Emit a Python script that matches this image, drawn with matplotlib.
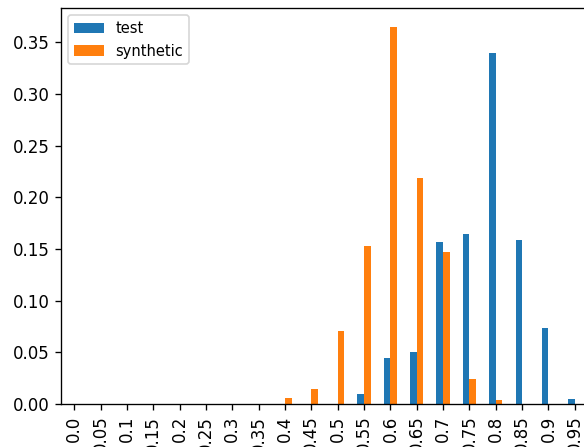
import pandas as pd
import matplotlib
matplotlib.use('Agg')
import matplotlib.pyplot as plt

bins = ['0.0', '0.05', '0.1', '0.15', '0.2', '0.25', '0.3', '0.35', '0.4', '0.45',
        '0.5', '0.55', '0.6', '0.65', '0.7', '0.75', '0.8', '0.85', '0.9', '0.95']
test = [0, 0, 0, 0, 0, 0, 0, 0, 0, 0,
        0, 0.0095, 0.045, 0.0507, 0.157, 0.1645, 0.340, 0.159, 0.074, 0.005]
synthetic = [0, 0, 0, 0, 0, 0, 0, 0, 0.0055, 0.0145,
             0.0708, 0.1525, 0.365, 0.219, 0.1467, 0.024, 0.0036, 0, 0, 0]

df = pd.DataFrame({'test': test, 'synthetic': synthetic}, index=bins)

fig = plt.figure(figsize=(584 / 120, 447 / 120), dpi=120)
# the reference is a crop: the right spine and the tick labels run past the edges
ax = fig.add_axes([61 / 584, 43 / 447, 527 / 584, 396 / 447])
df.plot.bar(ax=ax)
ax.legend(loc='upper left', fontsize=8.8)

fig.savefig('out.png', dpi=120)
